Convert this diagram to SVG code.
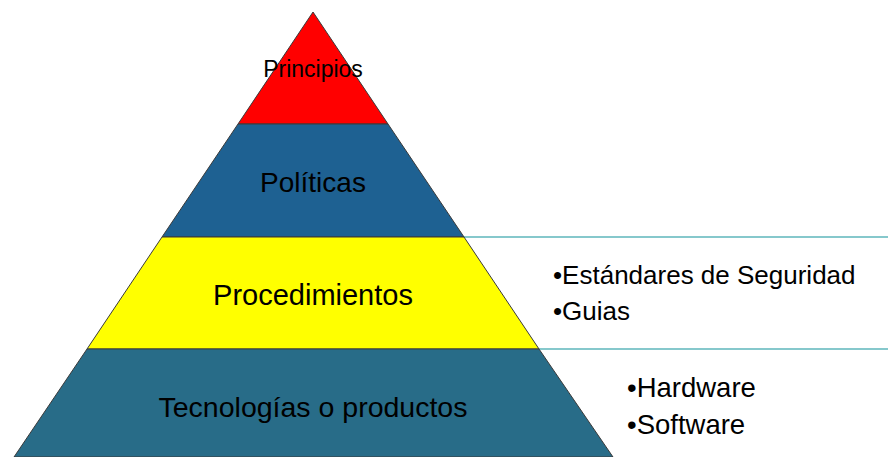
<svg xmlns="http://www.w3.org/2000/svg" width="888" height="457" viewBox="0 0 888 457">
<style>
.band{stroke:#3a3a3a;stroke-width:1;stroke-linejoin:round}
.lbl{font-family:"Liberation Sans",Arial,sans-serif;fill:#000;text-anchor:middle}
.side{font-family:"Liberation Sans",Arial,sans-serif;fill:#000;font-size:26px}
.rule{stroke:#86c8cc;stroke-width:2}
</style>
<rect width="888" height="457" fill="#ffffff"/>
<g id="connectors">
<line class="rule" x1="464" y1="237" x2="888" y2="237"/>
<line class="rule" x1="539" y1="349" x2="888" y2="349"/>
</g>
<g id="principios">
<polygon class="band" fill="#ff0000" points="313,12 388,124 238,124"/>
<text class="lbl" x="313" y="77" font-size="23">Principios</text>
</g>
<g id="politicas">
<polygon class="band" fill="#1e6192" points="238,124 388,124 464,237 162,237"/>
<text class="lbl" x="313" y="192" font-size="28">Políticas</text>
</g>
<g id="procedimientos">
<polygon class="band" fill="#ffff00" points="162,237 464,237 539,349 87,349"/>
<text class="lbl" x="313" y="305" font-size="29">Procedimientos</text>
<text class="side" x="553" y="284">•Estándares de Seguridad</text>
<text class="side" x="553" y="320">•Guias</text>
</g>
<g id="tecnologias">
<polygon class="band" fill="#286c88" points="87,349 539,349 613,457 14,457"/>
<text class="lbl" x="313" y="417" font-size="28.5">Tecnologías o productos</text>
<text class="side" x="627" y="397" font-size="27.5" style="font-size:27.5px">•Hardware</text>
<text class="side" x="627" y="434" style="font-size:27.5px">•Software</text>
</g>
</svg>
